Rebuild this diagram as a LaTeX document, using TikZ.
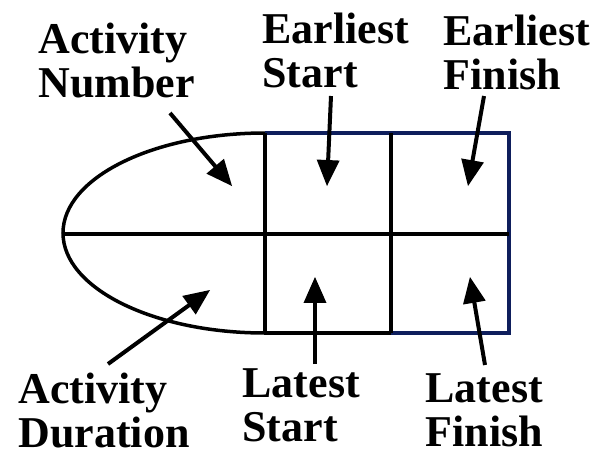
\documentclass[tikz,border=0pt]{standalone}
\usepackage{fontspec}
\newfontfamily\labelfont{Liberation Serif}
\usetikzlibrary{calc}

\begin{document}
\begin{tikzpicture}[x=1pt,y=-1pt,
        lbl/.style={anchor=north west,align=left,
            font=\labelfont\fontsize{44}{44}\selectfont\bfseries},
        stem/.style={line width=4pt},
        boxline/.style={line width=3.5pt},
        navyline/.style={line width=4pt,draw={rgb,255:red,14;green,30;blue,92}}]
    \useasboundingbox (0,0) rectangle (595,453);

    % the box
    \draw[navyline] (265,133) -- (509,133) -- (509,333) -- (391,333);
    \draw[boxline] (265,333) arc[start angle=90,end angle=270,x radius=202,y radius=100];
    \draw[boxline] (63,234) -- (509,234);
    \foreach \x in {265,391} {
        \draw[boxline] (\x,133) -- (\x,333);
    }
    \draw[boxline] (265,333) -- (391,333);

    % labels
    \node[lbl] (num) at (35,19) {Activity\\Number};
    \node[lbl] (es) at (259,9) {Earliest\\Start};
    \node[lbl] (ef) at (440,11) {Earliest\\Finish};
    \node[lbl] (dur) at (15,369) {Activity\\Duration};
    \node[lbl] (ls) at (239,365) {Latest\\Start};
    \node[lbl] (lf) at (422,370) {Latest\\Finish};

    % arrow ends
    \coordinate (numtail) at (170,113);
    \coordinate (numtip) at (232,186);
    \coordinate (estail) at (331,96);
    \coordinate (estip) at (327,186);
    \coordinate (eftail) at (484,96);
    \coordinate (eftip) at (468,186);
    \coordinate (durtail) at (108,364);
    \coordinate (durtip) at (210,290);
    \coordinate (lstail) at (315,364);
    \coordinate (lstip) at (315,277);
    \coordinate (lftail) at (485,365);
    \coordinate (lftip) at (470,277);

    % stems and heads
    \foreach \a in {num,es,ef,dur,ls,lf} {
        \draw[stem] (\a tail) -- ($(\a tip)!22pt!(\a tail)$);
        \fill (\a tip) -- ($(\a tip)!28.4pt!23.9:(\a tail)$)
            -- ($(\a tip)!28.4pt!-23.9:(\a tail)$) -- cycle;
    }
\end{tikzpicture}
\end{document}
